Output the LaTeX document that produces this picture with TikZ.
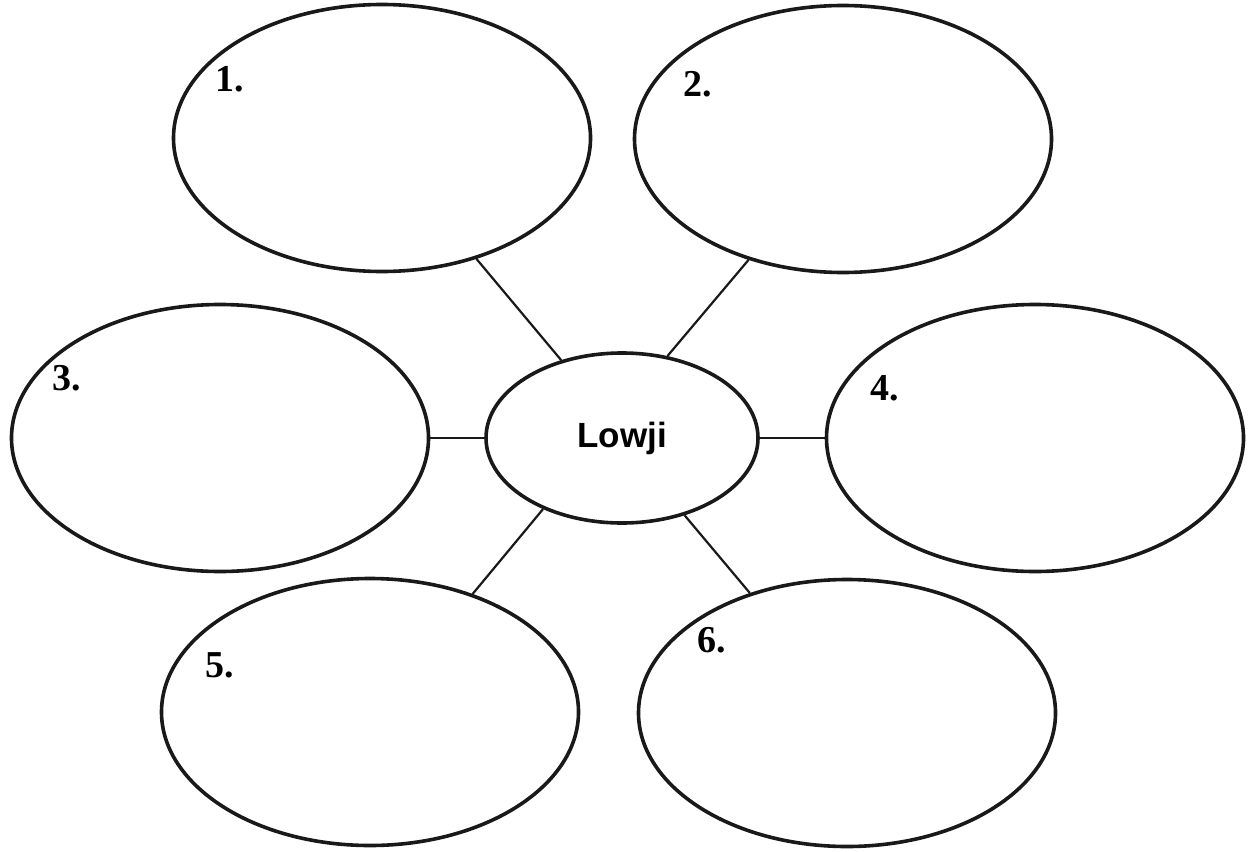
\documentclass[tikz,border=0pt]{standalone}
\usepackage{fontspec}
\setmainfont{Liberation Serif}
\newfontfamily\lsans{Liberation Sans}
\usetikzlibrary{shapes.geometric}
\begin{document}
\begin{tikzpicture}[x=1pt,y=-1pt,
  bigell/.style={draw=black!90, line width=3.6pt, ellipse, minimum width=417pt, minimum height=267pt, inner sep=0pt},
  midell/.style={draw=black!90, line width=3.6pt, ellipse, minimum width=272pt, minimum height=170pt, inner sep=0pt, font=\lsans\bfseries\fontsize{35}{35}\selectfont},
  num/.style={anchor=base west, inner sep=0pt, font=\bfseries\fontsize{38}{38}\selectfont},
  link/.style={draw=black!90, line width=2.2pt}]
\useasboundingbox (0,0) rectangle (1249,851);
\node[midell] (c) at (622,438) {Lowji};
\node[bigell] (e1) at (382,138) {};
\node[bigell] (e2) at (843,139) {};
\node[bigell] (e3) at (220,438) {};
\node[bigell] (e4) at (1035,438) {};
\node[bigell] (e5) at (370,712) {};
\node[bigell] (e6) at (847,713) {};
\node[num] (n1) at (215,92) {1.};
\node[num] (n2) at (683,96) {2.};
\node[num] (n3) at (52,390) {3.};
\node[num] (n4) at (870,400) {4.};
\node[num] (n5) at (205,677) {5.};
\node[num] (n6) at (697,652) {6.};
\draw[link] (c.128.7) -- (e1.-52.1);
\draw[link] (c.61.6) -- (e2.-128.3);
\draw[link] (c.west) -- (e3.east);
\draw[link] (c.east) -- (e4.west);
\draw[link] (c.-138.4) -- (e5.49);
\draw[link] (c.-51.3) -- (e6.129.9);
\end{tikzpicture}
\end{document}
